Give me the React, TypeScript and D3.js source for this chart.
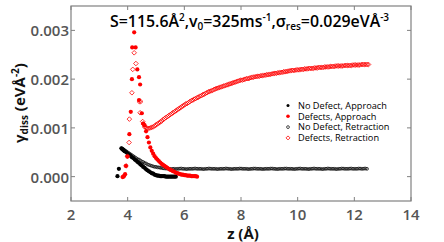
import React from "react";
import * as d3 from "d3";

// ---------- data ----------
const xTicks = [2, 4, 6, 8, 10, 12, 14];
const yTicks = [0, 0.001, 0.002, 0.003];
const yTickLabels = ["0.000", "0.001", "0.002", "0.003"];

const legendLabels = [
  "No Defect, Approach",
  "Defects, Approach",
  "No Defect, Retraction",
  "Defects, Retraction",
];

// No Defect, Approach (black filled)
const noDefectApproach: [number, number][] = [
  [3.64, 0.00001], [3.69, 0.00016], [3.78, 0.00058], [3.8, 0.00057], [3.82, 0.00056], [3.84, 0.00055], [3.86, 0.00054],
  [3.88, 0.00053], [3.9, 0.00052], [3.95, 0.0005], [4.0, 0.00047], [4.05, 0.00045], [4.1, 0.00043],
  [4.15, 0.0004], [4.2, 0.00038], [4.25, 0.00035], [4.3, 0.00033], [4.35, 0.0003],
  [4.4, 0.00028], [4.45, 0.00025], [4.5, 0.00023], [4.55, 0.0002], [4.6, 0.00018],
  [4.65, 0.00015], [4.7, 0.00013], [4.75, 0.00011], [4.8, 0.00009], [4.85, 0.00007],
  [4.9, 0.00006], [4.95, 0.00004], [5.0, 0.00003], [5.05, 0.00002], [5.1, 0.00002],
  [5.15, 0.00001], [5.2, 0.00001], [5.25, 0.00001], [5.3, 0.00001], [5.35, 0.0], [5.4, 0.0], [5.45, 0.0], [5.5, 0.0],
  [5.55, 0.0], [5.6, 0.0], [5.65, 0.0], [5.7, 0.0],
];

// Defects, Approach (red filled)
const defectsApproach: [number, number][] = [
  [3.82, -0.00001], [3.85, 0.0], [3.88, 0.00002], [3.91, 0.00005], [3.94, 0.00022],
  [3.99, 0.00041], [4.06, 0.00087], [4.11, 0.00133], [4.15, 0.002], [4.16, 0.00265],
  [4.23, 0.00296], [4.28, 0.00265], [4.34, 0.0022], [4.4, 0.00204], [4.44, 0.00189],
  [4.4, 0.00157], [4.5, 0.0013], [4.55, 0.00109],
  [4.6, 0.00105], [4.65, 0.00093], [4.7, 0.00081], [4.75, 0.0007], [4.8, 0.0006],
  [4.85, 0.00053], [4.9, 0.00047], [4.95, 0.00042], [5.0, 0.00038], [5.05, 0.00035],
  [5.1, 0.00032], [5.15, 0.00029], [5.2, 0.00026], [5.25, 0.00024], [5.3, 0.00022],
  [5.35, 0.0002], [5.4, 0.00018], [5.45, 0.00016], [5.5, 0.00014], [5.55, 0.00013],
  [5.6, 0.00011], [5.65, 0.0001], [5.7, 0.00008], [5.75, 0.00007], [5.8, 0.00006],
  [5.85, 0.00005], [5.9, 0.00004], [5.95, 0.00004], [6.0, 0.00003], [6.05, 0.00003],
  [6.1, 0.00002], [6.15, 0.00002], [6.2, 0.00002], [6.25, 0.00001], [6.3, 0.00001],
  [6.35, 0.00001], [6.4, 0.00001], [6.45, 0.0],
];

// No Defect, Retraction (black open circles)
const noDefectRetraction: [number, number][] = [
  [3.78, 0.00058], [3.85, 0.00056], [3.9, 0.00054], [3.95, 0.00052], [4.0, 0.0005],
  [4.05, 0.00048], [4.1, 0.00046], [4.15, 0.00044], [4.2, 0.00042], [4.25, 0.0004],
  [4.3, 0.00038], [4.35, 0.00036], [4.4, 0.00035], [4.45, 0.00033], [4.5, 0.00031],
  [4.55, 0.0003], [4.6, 0.00028], [4.65, 0.00027], [4.7, 0.00025], [4.75, 0.00024],
  [4.8, 0.00023], [4.85, 0.00022], [4.9, 0.00021], [4.95, 0.0002], [5.0, 0.0002],
  [5.05, 0.00019], [5.1, 0.00019], [5.15, 0.00018], [5.2, 0.00018], [5.25, 0.00017], [5.3, 0.00017],
  [5.35, 0.000165], [5.4, 0.000165], [5.45, 0.00016], [5.5, 0.00016], [5.55, 0.000155],
  [5.6, 0.00016], [5.65, 0.00016], [5.7, 0.000155], [5.75, 0.00016], [5.8, 0.00016],
  [5.85, 0.000165], [5.9, 0.000165], [5.95, 0.00016], [6.0, 0.00016], [6.05, 0.000155],
  [6.1, 0.000155], [6.15, 0.00016], [6.2, 0.00016], [6.25, 0.00016], [6.3, 0.00016],
  [6.35, 0.000165], [6.4, 0.000165], [6.45, 0.00016], [6.5, 0.00016], [6.55, 0.00016],
  [6.6, 0.00016], [6.65, 0.000155], [6.7, 0.000155], [6.75, 0.00016], [6.8, 0.00016],
  [6.85, 0.000165], [6.9, 0.000165], [6.95, 0.00016], [7.0, 0.00016], [7.05, 0.00016],
  [7.1, 0.00016], [7.15, 0.000155], [7.2, 0.000155], [7.25, 0.00016], [7.3, 0.00016],
  [7.35, 0.00016], [7.4, 0.00016], [7.45, 0.000165], [7.5, 0.000165], [7.55, 0.00016],
  [7.6, 0.00016], [7.65, 0.000155], [7.7, 0.000155], [7.75, 0.00016], [7.8, 0.00016],
  [7.85, 0.00016], [7.9, 0.00016], [7.95, 0.000165], [8.0, 0.000165], [8.05, 0.00016],
  [8.1, 0.00016], [8.15, 0.00016], [8.2, 0.00016], [8.25, 0.000155], [8.3, 0.000155],
  [8.35, 0.00016], [8.4, 0.00016], [8.45, 0.000165], [8.5, 0.000165], [8.55, 0.00016],
  [8.6, 0.00016], [8.65, 0.00016], [8.7, 0.00016], [8.75, 0.000155], [8.8, 0.000155],
  [8.85, 0.00016], [8.9, 0.00016], [8.95, 0.00016], [9.0, 0.00016], [9.05, 0.000165],
  [9.1, 0.000165], [9.15, 0.00016], [9.2, 0.00016], [9.25, 0.000155], [9.3, 0.000155],
  [9.35, 0.00016], [9.4, 0.00016], [9.45, 0.00016], [9.5, 0.00016], [9.55, 0.000165],
  [9.6, 0.000165], [9.65, 0.00016], [9.7, 0.00016], [9.75, 0.00016], [9.8, 0.00016],
  [9.85, 0.000155], [9.9, 0.000155], [9.95, 0.00016], [10.0, 0.00016], [10.05, 0.000165],
  [10.1, 0.000165], [10.15, 0.00016], [10.2, 0.00016], [10.25, 0.00016], [10.3, 0.00016],
  [10.35, 0.000155], [10.4, 0.000155], [10.45, 0.00016], [10.5, 0.00016], [10.55, 0.000165],
  [10.6, 0.000165], [10.65, 0.00016], [10.7, 0.00016], [10.75, 0.00016], [10.8, 0.00016],
  [10.85, 0.000155], [10.9, 0.000155], [10.95, 0.00016], [11.0, 0.00016], [11.05, 0.000165],
  [11.1, 0.000165], [11.15, 0.00016], [11.2, 0.00016], [11.25, 0.00016], [11.3, 0.00016],
  [11.35, 0.000155], [11.4, 0.000155], [11.45, 0.00016], [11.5, 0.00016], [11.55, 0.000165],
  [11.6, 0.000165], [11.65, 0.00016], [11.7, 0.00016], [11.75, 0.00016], [11.8, 0.00016],
  [11.85, 0.000165], [11.9, 0.000165], [11.95, 0.00016], [12.0, 0.00016], [12.05, 0.00016],
  [12.1, 0.00016], [12.15, 0.000165], [12.2, 0.000165], [12.25, 0.00016], [12.3, 0.00016],
  [12.35, 0.000165], [12.4, 0.000165], [12.45, 0.00016],
];

// Defects, Retraction (red open diamonds)
const defectsRetraction: [number, number][] = [
  [3.94, 0.00022], [3.99, 0.00042], [4.05, 0.0007], [4.06, 0.00118], [4.15, 0.00172],
  [4.18, 0.0022], [4.23, 0.00254], [4.29, 0.00232], [4.41, 0.00154], [4.46, 0.00154],
  [4.44, 0.00131], [4.53, 0.00113],
  [4.55, 0.00108], [4.6, 0.00102], [4.65, 0.001], [4.7, 0.00099], [4.75, 0.00099],
  [4.8, 0.001], [4.85, 0.00101], [4.9, 0.00102], [4.95, 0.00104], [5.0, 0.00106],
  [5.05, 0.00108], [5.1, 0.0011], [5.15, 0.00112], [5.2, 0.00114], [5.25, 0.00117],
  [5.3, 0.00119], [5.35, 0.00121], [5.4, 0.00123], [5.45, 0.00125], [5.5, 0.00127],
  [5.55, 0.00129], [5.6, 0.00131], [5.65, 0.00133], [5.7, 0.00135], [5.75, 0.00137],
  [5.8, 0.00139], [5.85, 0.00141], [5.9, 0.00143], [5.95, 0.00145], [6.0, 0.00147],
  [6.05, 0.00149], [6.1, 0.0015], [6.15, 0.00152], [6.2, 0.00154], [6.25, 0.00156],
  [6.3, 0.00157], [6.35, 0.00159], [6.4, 0.0016], [6.45, 0.00162], [6.5, 0.00163],
  [6.55, 0.00165], [6.6, 0.00166], [6.65, 0.00168], [6.7, 0.00169], [6.75, 0.00171],
  [6.8, 0.00172], [6.85, 0.00174], [6.9, 0.00175], [6.95, 0.00176], [7.0, 0.00177],
  [7.05, 0.00179], [7.1, 0.0018], [7.15, 0.00181], [7.2, 0.00182], [7.25, 0.00183],
  [7.3, 0.00184], [7.35, 0.00185], [7.4, 0.00186], [7.45, 0.00187], [7.5, 0.00188],
  [7.55, 0.00189], [7.6, 0.0019], [7.65, 0.00191], [7.7, 0.00192], [7.75, 0.00193],
  [7.8, 0.00194], [7.85, 0.00195], [7.9, 0.00196], [7.95, 0.00197], [8.0, 0.00198],
  [8.05, 0.00198], [8.1, 0.00199], [8.15, 0.002], [8.2, 0.00201], [8.25, 0.00201],
  [8.3, 0.00202], [8.35, 0.00203], [8.4, 0.00204], [8.45, 0.00204], [8.5, 0.00205],
  [8.55, 0.00205], [8.6, 0.00206], [8.65, 0.00206], [8.7, 0.00207], [8.75, 0.00207],
  [8.8, 0.00208], [8.85, 0.00208], [8.9, 0.00209], [8.95, 0.00209], [9.0, 0.0021],
  [9.05, 0.0021], [9.1, 0.00211], [9.15, 0.00211], [9.2, 0.00212], [9.25, 0.00212],
  [9.3, 0.00213], [9.35, 0.00213], [9.4, 0.00214], [9.45, 0.00214], [9.5, 0.00215],
  [9.55, 0.00215], [9.6, 0.00216], [9.65, 0.00216], [9.7, 0.00217], [9.75, 0.00217],
  [9.8, 0.00218], [9.85, 0.00218], [9.9, 0.00218], [9.95, 0.00219], [10.0, 0.00219],
  [10.05, 0.00219], [10.1, 0.0022], [10.15, 0.0022], [10.2, 0.0022], [10.25, 0.00221],
  [10.3, 0.00221], [10.35, 0.00221], [10.4, 0.00222], [10.45, 0.00222], [10.5, 0.00222],
  [10.55, 0.00222], [10.6, 0.00223], [10.65, 0.00223], [10.7, 0.00223], [10.75, 0.00224],
  [10.8, 0.00224], [10.85, 0.00224], [10.9, 0.00224], [10.95, 0.00225], [11.0, 0.00225],
  [11.05, 0.00225], [11.1, 0.00225], [11.15, 0.00226], [11.2, 0.00226], [11.25, 0.00226],
  [11.3, 0.00226], [11.35, 0.00227], [11.4, 0.00227], [11.45, 0.00227], [11.5, 0.00227],
  [11.55, 0.00227], [11.6, 0.00227], [11.65, 0.00228], [11.7, 0.00228], [11.75, 0.00228],
  [11.8, 0.00228], [11.85, 0.00228], [11.9, 0.00228], [11.95, 0.00229], [12.0, 0.00229],
  [12.05, 0.00229], [12.1, 0.00229], [12.15, 0.00229], [12.2, 0.00229], [12.25, 0.0023],
  [12.3, 0.0023], [12.35, 0.0023], [12.4, 0.0023], [12.45, 0.0023], [12.5, 0.0023],
];

// ---------- layout ----------
const W = 444;
const H = 242;
const X0 = 71, X1 = 411, Y0 = 6, Y1 = 201;
const FONT = "'Open Sans', 'Noto Sans', sans-serif";

const x = d3.scaleLinear().domain([2, 14]).range([X0, X1]);
const y = d3.scaleLinear().domain([-0.0005, 0.0035]).range([Y1, Y0]);

const diamond = (cx: number, cy: number, a: number) =>
  `M${cx},${cy - a}L${cx + a},${cy}L${cx},${cy + a}L${cx - a},${cy}Z`;

export default function App() {
  const tickLen = 4;
  const legX = 288;
  const legY = [105.5, 116.3, 127.1, 137.9];
  return (
    <svg width={W} height={H} style={{ position: "absolute", left: 0, top: 0, background: "#fff" }}>
      <rect x={0} y={0} width={W} height={H} fill="#fff" />
      {/* data */}
      <g>
        {noDefectRetraction.map(([zv, v], i) => (
          <circle key={"ndr" + i} cx={x(zv)} cy={y(v)} r={1.4} fill="none" stroke="#000" strokeWidth={0.7} />
        ))}
        {noDefectApproach.map(([zv, v], i) => (
          <circle key={"nda" + i} cx={x(zv)} cy={y(v)} r={2.1} fill="#000" />
        ))}
        {defectsRetraction.map(([zv, v], i) => (
          <path key={"dr" + i} d={diamond(x(zv), y(v), 2.3)} fill="none" stroke="#ff0000" strokeWidth={0.8} />
        ))}
        {defectsApproach.map(([zv, v], i) => (
          <circle key={"da" + i} cx={x(zv)} cy={y(v)} r={2.1} fill="#ff0000" />
        ))}
      </g>
      {/* frame */}
      <rect x={X0} y={Y0} width={X1 - X0} height={Y1 - Y0} fill="none" stroke="#808080" strokeWidth={1.2} />
      {xTicks.map((t) => (
        <g key={"xt" + t}>
          <line x1={x(t)} x2={x(t)} y1={Y1} y2={Y1 - tickLen} stroke="#808080" />
          <line x1={x(t)} x2={x(t)} y1={Y0} y2={Y0 + tickLen} stroke="#808080" />
          <text x={x(t)} y={220} textAnchor="middle" fontFamily={FONT} fontWeight={600} fontSize={15} fill="#555">
            {t}
          </text>
        </g>
      ))}
      {yTicks.map((t, i) => (
        <g key={"yt" + t}>
          <line x1={X0} x2={X0 + tickLen} y1={y(t)} y2={y(t)} stroke="#808080" />
          <line x1={X1} x2={X1 - tickLen} y1={y(t)} y2={y(t)} stroke="#808080" />
          <text x={69} y={y(t) + 6} textAnchor="end" fontFamily={FONT} fontWeight={600} fontSize={15} fill="#555">
            {yTickLabels[i]}
          </text>
        </g>
      ))}
      {/* axis labels */}
      <text x={243} y={238.5} textAnchor="middle" fontFamily={FONT} fontWeight={700} fontSize={15} fill="#111">
        z (Å)
      </text>
      <text transform="translate(25,103) rotate(-90)" textAnchor="middle" fontFamily={FONT} fontWeight={700} fontSize={15} fill="#111">
        γ<tspan fontSize={10} dy={3}>diss</tspan>
        <tspan dy={-3}> (eVÅ</tspan>
        <tspan fontSize={10} dy={-6}>-2</tspan>
        <tspan dy={6}>)</tspan>
      </text>
      {/* title */}
      <text x={110} y={27} fontFamily={FONT} fontWeight={600} fontSize={15.9} fill="#000">
        S=115.6Å<tspan fontSize={10} dy={-6}>2</tspan>
        <tspan dy={6}>,v</tspan>
        <tspan fontSize={10} dy={3}>0</tspan>
        <tspan dy={-3}>=325ms</tspan>
        <tspan fontSize={10} dy={-6}>-1</tspan>
        <tspan dy={6}>,σ</tspan>
        <tspan fontSize={10} dy={3}>res</tspan>
        <tspan dy={-3}>=0.029eVÅ</tspan>
        <tspan fontSize={10} dy={-6}>-3</tspan>
      </text>
      {/* legend */}
      <g>
        <circle cx={legX} cy={legY[0]} r={1.5} fill="#000" />
        <circle cx={legX} cy={legY[1]} r={1.8} fill="#ff0000" />
        <circle cx={legX} cy={legY[2]} r={1.4} fill="none" stroke="#000" strokeWidth={0.7} />
        <path d={diamond(legX, legY[3], 2)} fill="none" stroke="#ff0000" strokeWidth={0.8} />
        {legendLabels.map((l, i) => (
          <text key={l} x={legX + 10} y={legY[i] + 3.2} fontFamily={FONT} fontWeight={500} fontSize={9.2} fill="#000">
            {l}
          </text>
        ))}
      </g>
    </svg>
  );
}
